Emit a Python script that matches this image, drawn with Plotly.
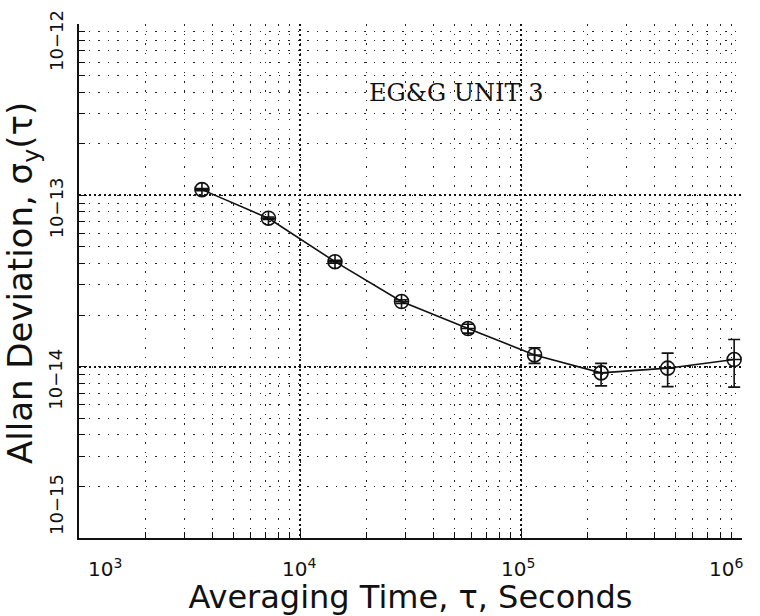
import math
import plotly.graph_objects as go

# Data
tau = [3600, 7200, 14400, 28800, 57600, 115200, 230400, 460800, 921600]
sigma = [1.08e-13, 7.35e-14, 4.10e-14, 2.40e-14, 1.67e-14, 1.17e-14, 9.2e-15, 9.8e-15, 1.10e-14]
err_plus = [1.5e-15, 1.2e-15, 0.8e-15, 0.6e-15, 1.0e-15, 1.2e-15, 1.25e-15, 2.2e-15, 3.4e-15]
err_minus = [1.5e-15, 1.2e-15, 0.8e-15, 0.6e-15, 1.0e-15, 1.25e-15, 1.47e-15, 2.15e-15, 3.4e-15]

x_tickvals = [1e3, 1e4, 1e5, 1e6]
x_ticktext = ["10<sup>3</sup>", "10<sup>4</sup>", "10<sup>5</sup>", "10<sup>6</sup>"]
x_label_shift = [26, -1, -3, -16]
y_tickvals = [1e-15, 1e-14, 1e-13, 1e-12]
y_ticktext = ["10\u221215", "10\u221214", "10\u221213", "10\u221212"]
y_label_shift = [33, -13, -13, -17]

x_title = "Averaging Time, \u03c4, Seconds"
y_title = "Allan Deviation, \u03c3<sub>y</sub>(\u03c4)"
label_text = "EG&G UNIT 3"

fig = go.Figure()
fig.add_trace(go.Scatter(
    x=tau, y=sigma, mode="lines+markers",
    line=dict(color="#111", width=1.6),
    marker=dict(symbol="circle-cross-open", size=14, color="#111",
                line=dict(width=1.6, color="#111")),
    error_y=dict(type="data", symmetric=False, array=err_plus, arrayminus=err_minus,
                 color="#111", thickness=1.6, width=6),
    showlegend=False,
))

grid_major = dict(showgrid=True, gridcolor="#111", gridwidth=1.5, griddash="2px,3px")
minor = dict(dtick="D1", ticks="inside", ticklen=6, tickcolor="#111", tickwidth=1,
             showgrid=True, gridcolor="#222", gridwidth=1, griddash="1.5px,8px")

fig.update_xaxes(
    type="log", range=[3, 6], tickvals=x_tickvals, showticklabels=False,
    ticks="inside", ticklen=8, tickcolor="#111",
    showline=True, linecolor="#111", linewidth=2, mirror=False,
    title=dict(text=x_title,
               font=dict(family="DejaVu Sans", size=32, color="#111"), standoff=52),
    minor=minor, zeroline=False, **grid_major,
)
fig.update_yaxes(
    type="log", range=[-15, -12], tickvals=y_tickvals, showticklabels=False,
    ticks="inside", ticklen=8, tickcolor="#111",
    showline=True, linecolor="#111", linewidth=2, mirror=False,
    minor=minor, zeroline=False, **grid_major,
)

annotations = []
for v, t, s in zip(x_tickvals, x_ticktext, x_label_shift):
    annotations.append(dict(
        x=math.log10(v), xref="x", y=0, yref="paper", text=t, showarrow=False,
        xanchor="center", yanchor="top", xshift=s, yshift=-15,
        font=dict(family="DejaVu Sans", size=20, color="#111"),
    ))
for v, t, s in zip(y_tickvals, y_ticktext, y_label_shift):
    annotations.append(dict(
        x=0, xref="paper", y=math.log10(v), yref="y", text=t, showarrow=False,
        textangle=-90, xanchor="center", yanchor="middle", xshift=-23, yshift=s,
        font=dict(family="DejaVu Sans", size=18, color="#111"),
    ))
annotations.append(dict(
    x=0, xref="paper", y=0.5, yref="paper", text=y_title, showarrow=False,
    textangle=-90, xanchor="center", yanchor="middle", xshift=-57, yshift=-2,
    font=dict(family="DejaVu Sans", size=34, color="#111"),
))
annotations.append(dict(
    x=0.569, y=0.866, xref="paper", yref="paper", text=label_text, showarrow=False,
    xanchor="center", yanchor="middle",
    font=dict(family="DejaVu Serif", size=24, color="#111"),
))

fig.update_layout(
    width=760, height=616,
    margin=dict(l=79, r=18, t=24, b=78, autoexpand=False),
    paper_bgcolor="white", plot_bgcolor="white",
    annotations=annotations,
)

fig.write_html("out.html", config={"displayModeBar": False},
               post_script="document.body.style.margin='0';")
